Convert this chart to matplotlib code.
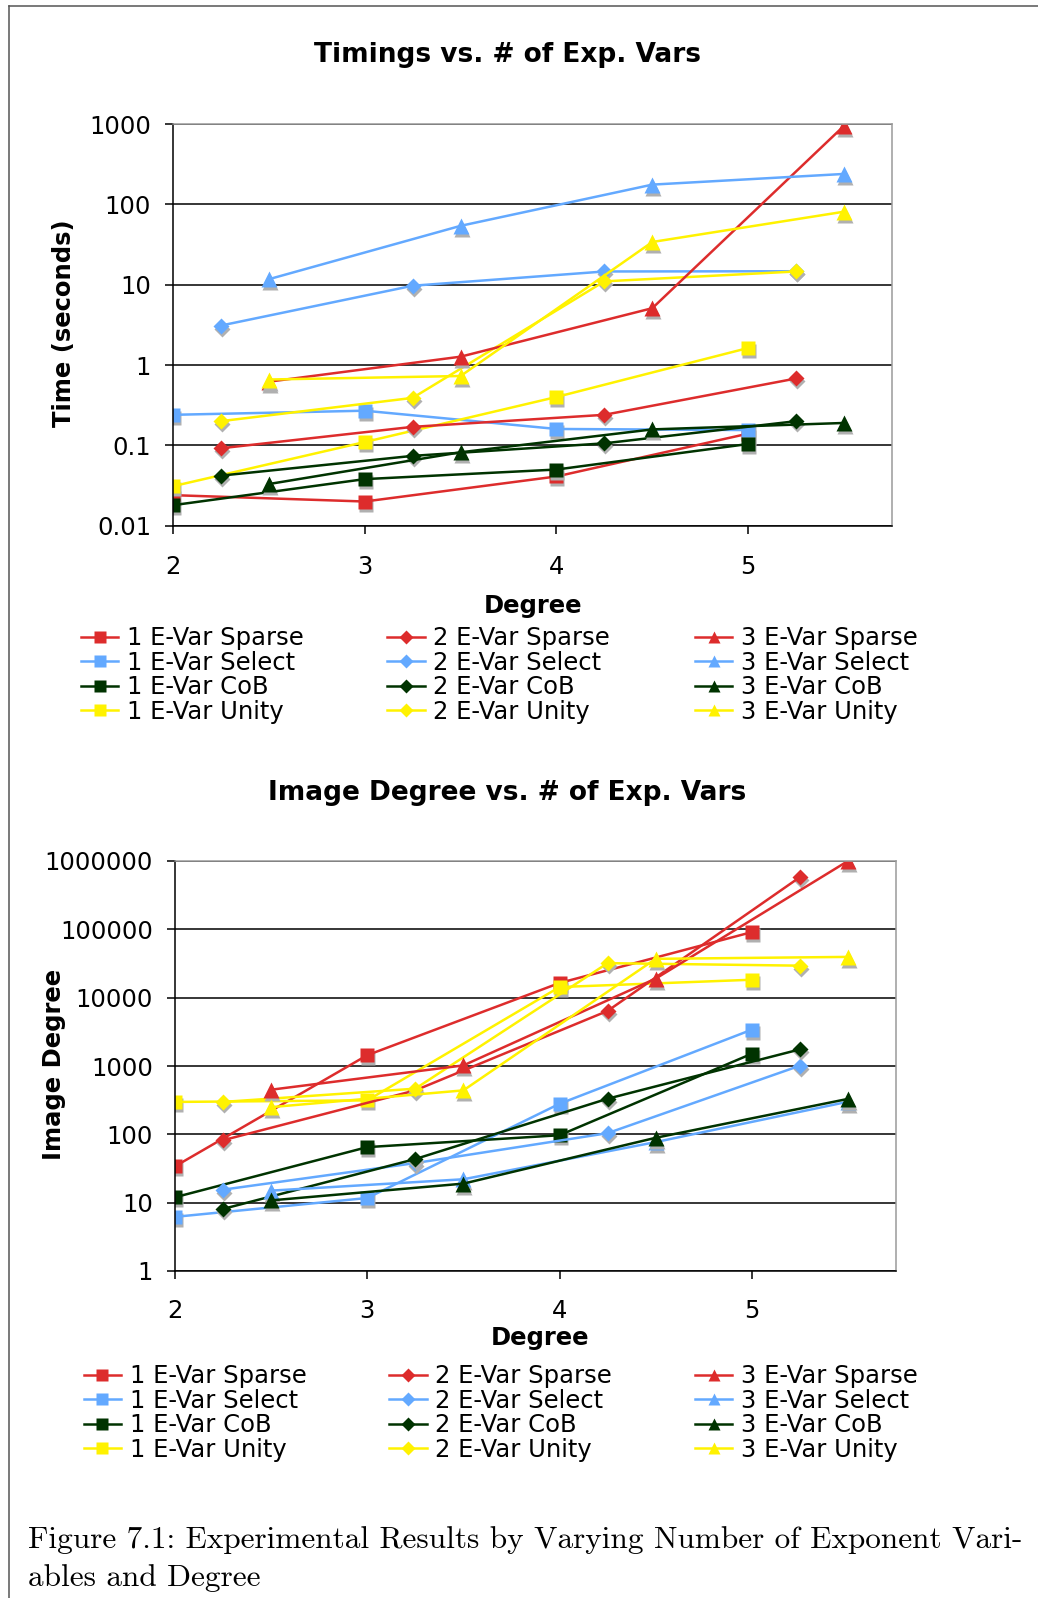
import matplotlib
matplotlib.use('Agg')
import matplotlib.pyplot as plt
from matplotlib.lines import Line2D
from matplotlib.ticker import FixedLocator, FuncFormatter, NullLocator
from matplotlib.transforms import offset_copy

W, H = 1038, 1598

degrees = [2, 3, 4, 5]
evar_counts = [1, 2, 3]
methods = ['Sparse', 'Select', 'CoB', 'Unity']

# timings in seconds, one row per number of exponent variables (1, 2, 3)
time_sparse = [[0.024, 0.020, 0.041, 0.14], [0.092, 0.17, 0.24, 0.68], [0.62, 1.27, 5.1, 950]]
time_select = [[0.24, 0.27, 0.16, 0.155], [3.1, 9.7, 14.6, 14.7], [11.7, 54, 176, 239]]
time_cob = [[0.018, 0.038, 0.050, 0.104], [0.042, 0.074, 0.106, 0.20], [0.033, 0.082, 0.158, 0.19]]
time_unity = [[0.031, 0.11, 0.40, 1.63], [0.20, 0.39, 11, 14.6], [0.66, 0.73, 34, 81]]

# image degree, same layout
img_sparse = [[34, 1440, 16400, 91000], [82, 440, 6400, 580000], [450, 1020, 19000, 1000000]]
img_select = [[6.2, 11.7, 280, 3400], [15.5, 38, 104, 1010], [15, 22, 77, 300]]
img_cob = [[12, 65, 97, 1510], [8.1, 43.5, 332, 1750], [10.8, 19, 89, 330]]
img_unity = [[298, 314, 14300, 18300], [298, 466, 32000, 29400], [250, 440, 37000, 39500]]

time_ticks = [0.01, 0.1, 1, 10, 100, 1000]
img_ticks = [1, 10, 100, 1000, 10000, 100000, 1000000]

colors = {'Sparse': '#dd2c2c', 'Select': '#63a9ff', 'CoB': '#003300', 'Unity': '#fff200'}
markers = {1: 's', 2: 'D', 3: '^'}
msizes = {1: 10, 2: 8.5, 3: 11}
shift = {1: 0.0, 2: 0.25, 3: 0.5}

plt.rcParams['font.family'] = 'DejaVu Sans'


def fig_xy(x, y):
    return x / W, 1 - y / H


def draw_chart(ax, data, ticks, xpad):
    fig = ax.figure
    shadow = offset_copy(ax.transData, fig=fig, x=1, y=-3, units='dots')
    handles = {}
    z = 2.0
    for k in evar_counts:
        xs = [d + shift[k] for d in degrees]
        for m in methods:
            ys = data[m][k - 1]
            ax.plot(xs, ys, ls='none', marker=markers[k], ms=msizes[k],
                    color='#b0b0b0', mec='none', transform=shadow, zorder=z)
            line, = ax.plot(xs, ys, color=colors[m], lw=1.8, marker=markers[k],
                            ms=msizes[k], mec='none', zorder=z + 0.005,
                            label=f'{k} E-Var {m}')
            handles[(k, m)] = line
            z += 0.01

    ax.set_yscale('log')
    ax.set_ylim(ticks[0], ticks[-1])
    ax.set_xlim(2, 5.75)
    ax.xaxis.set_major_locator(FixedLocator(degrees))
    ax.yaxis.set_major_locator(FixedLocator(ticks))
    ax.yaxis.set_minor_locator(NullLocator())
    ax.yaxis.set_major_formatter(FuncFormatter(lambda v, p: f'{v:.10g}'))
    ax.tick_params(axis='both', direction='out', length=5.8, width=1.1,
                   labelsize=17.5, color='black')
    ax.tick_params(axis='y', pad=10)
    ax.tick_params(axis='x', pad=xpad)
    ax.set_axisbelow(True)
    ax.yaxis.grid(True, color='black', lw=1.1)
    for side in ('left', 'bottom'):
        ax.spines[side].set_color('black')
        ax.spines[side].set_linewidth(1.1)
    for side in ('top', 'right'):
        ax.spines[side].set_color('#9a9a9a')
        ax.spines[side].set_linewidth(1.1)
    return handles


def add_legends(fig, handles, xs_px, y_px):
    for k, x_px in zip(evar_counts, xs_px):
        hs = [handles[(k, m)] for m in methods]
        fig.legend(handles=hs, loc='center left', bbox_to_anchor=fig_xy(x_px, y_px),
                   frameon=False, fontsize=17.5, borderpad=0, borderaxespad=0,
                   handlelength=1.55, handletextpad=0.35, labelspacing=0.02,
                   markerscale=0.8)


fig = plt.figure(figsize=(W / 100, H / 100), dpi=100)

# timings chart
ax1 = fig.add_axes([173 / W, 1 - 525.7 / H, 719 / W, 401.7 / H])
h1 = draw_chart(ax1, {'Sparse': time_sparse, 'Select': time_select,
                      'CoB': time_cob, 'Unity': time_unity}, time_ticks, 15)
fig.text(*fig_xy(507, 55), 'Timings vs. # of Exp. Vars', ha='center', va='center',
         fontsize=19, weight='bold')
fig.text(*fig_xy(63.5, 323.5), 'Time (seconds)', ha='center', va='center',
         rotation=90, fontsize=17.5, weight='bold')
fig.text(*fig_xy(533, 606), 'Degree', ha='center', va='center',
         fontsize=17.5, weight='bold')
add_legends(fig, h1, [80.7, 387, 694.7], 675)

# image degree chart
ax2 = fig.add_axes([175 / W, 1 - 1271 / H, 721 / W, 410 / H])
h2 = draw_chart(ax2, {'Sparse': img_sparse, 'Select': img_select,
                      'CoB': img_cob, 'Unity': img_unity}, img_ticks, 14)
fig.text(*fig_xy(507, 792.5), 'Image Degree vs. # of Exp. Vars', ha='center', va='center',
         fontsize=19, weight='bold')
fig.text(*fig_xy(53.5, 1064.5), 'Image Degree', ha='center', va='center',
         rotation=90, fontsize=17.5, weight='bold')
fig.text(*fig_xy(540, 1337.5), 'Degree', ha='center', va='center',
         fontsize=17.5, weight='bold')
add_legends(fig, h2, [83.5, 389, 694.7], 1413)

# page frame and caption
fig.add_artist(Line2D([8.5 / W, 1], [1 - 5.5 / H, 1 - 5.5 / H], color='#555555', lw=1.1))
fig.add_artist(Line2D([8.5 / W, 8.5 / W], [0, 1 - 5.5 / H], color='#555555', lw=1.1))
fig.text(*fig_xy(28.3, 1548.3),
         'Figure 7.1: Experimental Results by Varying Number of Exponent Vari-',
         ha='left', va='baseline', fontsize=22.5, family='cmr10')
fig.text(*fig_xy(28.3, 1586), 'ables and Degree', ha='left', va='baseline',
         fontsize=22.5, family='cmr10')

fig.savefig('out.png', dpi=100)
